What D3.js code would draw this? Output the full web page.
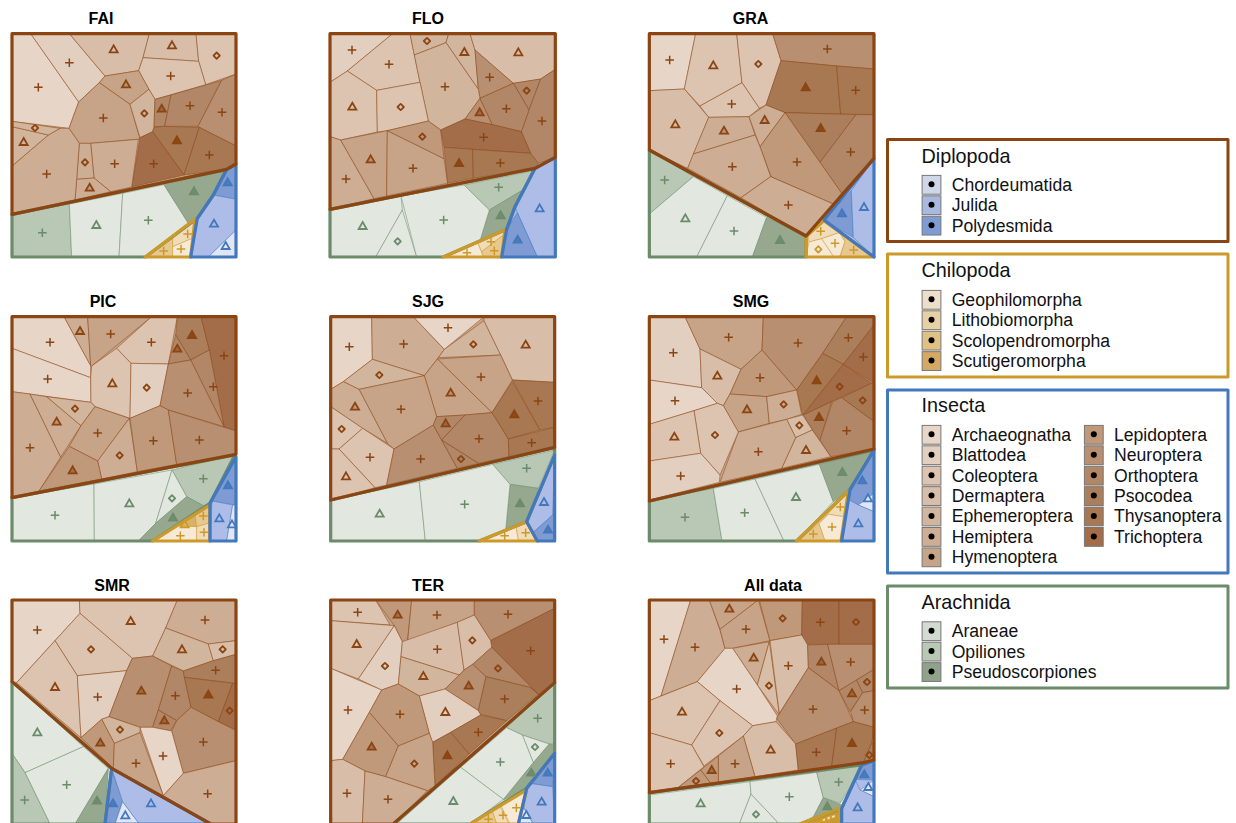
<!DOCTYPE html>
<html><head><meta charset="utf-8">
<script src="https://cdn.jsdelivr.net/npm/d3@7"></script>
<style>html,body{margin:0;padding:0;background:#fff}svg{display:block}text{font-family:"Liberation Sans",Arial,sans-serif}</style>
</head><body><svg id="c" width="1236" height="823"></svg>
<script>
// Fill colours, by taxon order within each class
const insectaFill=["#e7d6c8","#e2cfbf","#dcc4b0","#d8bea8","#d2b59d","#cdad93","#c7a487","#bf997a","#b88f70","#b18767","#ab7f5c","#a87853","#a36d4a"];
const arachnidaFill=["#e2e7df","#b9c7b5","#96a98f"];
const chilopodaFill=["#f6ead6","#f0dcb8","#e7c98f","#d9b26a","#cc9a2a"];
const diplopodaFill=["#e1e6f5","#aebde8","#7f9bd3"];
const groupColor={I:"#8b4513",A:"#6b8b6b",C:"#cc9a2a",D:"#4478bd"};
const fills={I:insectaFill,A:arachnidaFill,C:chilopodaFill,D:diplopodaFill};
const gapFill={I:"#c7a487",A:"#e2e7df",C:"#f0dcb8",D:"#aebde8"};

// Panel title, reading frame of the panel (left,right,top,bottom) and crop origin
const panelNames=["FAI","FLO","GRA","PIC","SJG","SMG","SMR","TER","All data"];
const panelFrames=[[36,708,101,771],[30,706,101,771],[28,702,101,771],[36,708,95,768],[32,704,95,768],[28,702,95,768],[36,708,90,762],[32,704,90,762],[28,702,90,762]];
const panelOrigins=[[0,0],[320,0],[640,0],[0,285],[320,285],[640,285],[0,570],[320,570],[640,570]];
const titleCentres=[101,428,750.5,103,428,751,112,428,773];
const titleBaselines=[23.5,23.5,23.5,307,307,307,590.5,590.5,590.5];

// Class outlines: [class, vertices]
const outlineFAI=[["A","36,643 680,508 640,585 592,655 436,771 36,771"],["C","585,657 436,771 572,771"],["D","708,492 680,508 640,585 592,655 572,771 708,771"],["I","36,101 708,101 708,492 680,508 36,643"]];
const outlineFLO=[["A","30,628 645,505 585,620 560,688 370,771 30,771"],["C","555,690 370,771 545,771"],["D","706,472 645,505 585,620 560,688 545,771 706,771"],["I","30,101 706,101 706,472 645,505 30,628"]];
const outlineGRA=[["A","28,450 498,708 498,771 28,771"],["C","498,710 552,662 702,771 498,771"],["D","702,475 552,660 702,771"],["I","28,101 702,101 702,475 498,708 28,450"]];
const outlinePIC=[["A","36,638 705,510 630,655 458,768 36,768"],["C","630,660 458,768 630,768"],["D","708,515 630,655 630,768 708,768"],["I","36,95 708,95 708,508 36,638"]];
const outlineSJG=[["A","32,645 704,487 704,510 620,710 478,768 32,768"],["C","620,710 478,768 652,768"],["D","704,510 620,710 652,768 704,768"],["I","32,95 704,95 704,487 32,645"]];
const outlineSMG=[["A","28,648 702,495 628,615 470,768 28,768"],["C","625,618 470,768 603,768"],["D","702,495 630,615 605,768 702,768"],["I","28,95 702,95 702,492 28,648"]];
const outlineSMR=[["A","36,335 335,595 315,762 36,762"],["D","335,595 632,762 315,762"],["I","36,90 708,90 708,762 632,762 335,595 36,335"]];
const outlineTER=[["A","704,338 704,550 620,655 450,762 220,762"],["C","620,660 450,762 595,762"],["D","704,550 620,655 595,762 704,762"],["I","32,90 704,90 704,338 220,762 32,762"]];
const outlineALL=[["A","28,668 665,585 605,715 480,762 28,762"],["C","600,715 480,762 600,762"],["D","702,572 665,585 605,715 605,762 702,762"],["I","28,90 702,90 702,570 670,578 28,668"]];

// Cells: [class, shade, marker (p plus, t triangle, d diamond, n none), marker x, marker y, vertices]
const cellsFAI=[
["I",0,"p",115,262,"36,101 92,101 236,306 207,385 36,364"],["I",1,"p",208,188,"92,101 208,101 315,228 298,248 236,306"],
["I",3,"t",341,150,"208,101 448,101 429,173 416,212 315,228"],["I",3,"t",516,138,"448,101 588,101 596,184 429,173"],
["I",2,"d",650,167,"588,101 708,101 708,222 617,254 596,184"],["I",2,"p",512,228,"429,173 596,184 617,254 465,298 447,268 416,212"],
["I",6,"t",378,255,"315,228 416,212 447,268 390,313 298,248"],["I",6,"p",310,354,"298,248 390,313 420,417 272,430 238,430 207,385 236,306"],
["I",4,"d",433,340,"390,313 447,268 465,298 462,382 458,395 420,413"],["I",9,"t",485,328,"465,298 513,285 494,379 462,380"],
["I",9,"p",570,317,"513,285 665,241 594,379 494,379"],["I",8,"p",666,337,"665,241 708,222 708,438 598,382 594,379"],
["I",11,"t",531,423,"494,379 598,382 552,525 458,395 462,382"],["I",11,"p",628,465,"598,382 708,438 708,492 680,508 552,525"],
["I",12,"p",461,491,"458,395 552,525 395,561 420,413"],["I",5,"p",344,491,"272,430 415,418 395,561 332,575 282,534"],
["I",5,"d",255,487,"238,430 272,430 282,534 230,538"],["I",5,"t",269,565,"230,538 282,534 332,575 225,600"],
["I",5,"p",140,522,"36,498 145,405 180,385 207,385 238,430 230,538 225,600 36,643"],["I",4,"t",71,428,"36,380 145,405 36,498"],
["I",4,"d",105,384,"36,364 180,385 145,405 36,380"],
["A",1,"p",127,698,"36,643 208,612 215,771 36,771"],["A",0,"t",289,677,"208,612 368,580 357,771 215,771"],
["A",0,"p",445,661,"368,580 492,554 565,670 436,771 357,771"],["A",2,"t",582,576,"492,554 680,512 640,585 592,655 565,670"],
["C",2,"p",491,753,"436,771 518,708 518,771"],["C",1,"p",563,702,"518,708 585,657 577,715 518,740"],["C",0,"p",543,747,"518,740 577,715 572,771 518,771"],
["D",2,"t",683,549,"680,508 708,492 708,598 640,585"],["D",1,"t",642,673,"640,585 708,598 708,690 625,771 572,771 592,655"],["D",0,"t",677,740,"708,690 708,771 625,771"]];
const cellsFLO=[
["I",1,"p",96,150,"30,101 218,101 82,213 30,247"],["I",2,"p",207,193,"218,101 270,101 283,165 300,247 170,271 82,213"],
["I",4,"d",321,123,"270,101 386,101 378,128 283,165"],["I",4,"t",433,158,"386,101 450,101 465,150 475,268 378,128"],
["I",3,"t",595,159,"450,101 706,101 706,208 662,237 580,250 465,150"],["I",8,"p",509,232,"465,150 580,250 480,295 475,268"],
["I",9,"d",620,272,"580,250 662,237 627,330"],["I",9,"p",666,363,"662,237 706,208 706,472 648,492 632,460 604,395 627,330"],
["I",4,"p",375,260,"283,165 378,128 475,268 480,295 435,357 362,390 325,363 300,247"],["I",2,"t",97,322,"30,247 82,213 170,271 172,396 62,420 30,410"],
["I",2,"d",242,321,"170,271 300,247 325,363 202,392 172,396"],["I",5,"p",78,537,"30,410 62,420 162,596 30,628"],
["I",6,"t",152,480,"62,420 202,392 200,588 162,596"],["I",6,"p",279,505,"202,392 372,476 383,550 200,588"],
["I",7,"d",307,410,"202,392 325,363 362,390 372,476"],["I",8,"t",479,339,"480,295 517,374 435,357"],
["I",9,"p",559,326,"480,295 580,250 627,330 604,395 517,374"],["I",12,"p",491,412,"435,357 517,374 604,395 632,460 458,448 372,442 362,390"],
["I",11,"t",417,491,"372,442 458,448 460,535 383,550"],["I",11,"p",541,489,"458,448 632,460 655,490 645,505 460,535"],
["A",1,"p",536,562,"432,555 640,512 612,568 508,630"],["A",2,"t",542,648,"508,630 612,568 585,620 560,688 480,722"],
["A",0,"t",128,680,"30,628 243,588 247,630 167,771 30,771"],["A",0,"d",233,724,"247,630 290,771 167,771"],
["A",0,"p",371,660,"243,588 432,555 508,630 480,722 370,771 290,771"],
["C",0,"p",441,758,"370,771 473,727 490,771"],["C",1,"p",513,725,"473,727 555,690 550,705 485,755"],["C",2,"p",523,752,"485,755 550,705 545,771 490,771"],
["D",1,"t",659,627,"706,472 645,505 585,620 592,638 652,771 706,771"],["D",2,"t",593,721,"592,638 652,771 545,771 560,688"]];
const cellsGRA=[
["I",0,"p",89,180,"28,101 167,101 133,267 28,272"],["I",2,"t",220,198,"167,101 290,101 306,248 180,318 133,267"],
["I",2,"d",355,192,"290,101 398,101 423,182 378,315 358,325 306,248"],["I",8,"p",562,147,"398,101 702,101 702,207 590,198 423,182"],
["I",11,"t",497,264,"423,182 590,198 602,342 435,338 378,315"],["I",11,"p",647,271,"590,198 702,207 702,344 602,342"],
["I",2,"p",275,312,"306,248 358,325 327,350 206,352 180,318"],["I",3,"t",106,375,"28,272 133,267 206,352 143,505 28,450"],
["I",5,"t",252,394,"206,352 327,350 345,405 160,462"],["I",5,"t",374,362,"327,350 378,315 435,338 360,440"],
["I",10,"t",542,386,"435,338 648,344 540,487"],["I",9,"p",632,456,"648,344 702,344 702,475 605,580 540,487"],
["I",7,"p",471,486,"435,338 540,487 605,580 580,612 393,530 360,440"],["I",5,"p",277,500,"160,462 345,405 360,440 392,530 303,593 143,505"],
["I",5,"p",445,615,"392,530 580,612 498,708 303,593"],
["A",1,"p",74,540,"28,450 160,530 28,642"],["A",0,"t",136,657,"28,642 160,530 262,587 170,771 28,771"],
["A",0,"p",282,693,"262,587 380,652 337,771 170,771"],["A",2,"t",420,722,"380,652 498,708 498,771 337,771"],
["C",1,"p",542,694,"505,708 552,664 600,697 545,716 507,726"],["C",0,"d",535,748,"507,726 545,716 582,771 498,771"],
["C",0,"p",585,730,"545,716 598,698 615,725 600,768 582,771"],["C",2,"p",641,750,"600,697 702,771 600,771 615,725"],
["D",2,"t",606,642,"634,572 640,712 552,660"],["D",1,"t",672,623,"702,475 702,771 640,712 634,572"]];
const cellsPIC=[
["I",0,"p",150,172,"36,95 192,95 272,242 272,278 36,190"],["I",5,"t",240,140,"192,95 263,95 272,242"],
["I",6,"p",332,147,"263,95 455,95 275,243 272,242"],["I",2,"p",454,172,"455,95 532,95 505,237 393,235 350,190"],
["I",0,"p",143,282,"36,190 272,278 273,352 36,320"],["I",2,"t",337,297,"350,190 393,235 390,400 285,365 273,352 272,278 275,243"],
["I",1,"d",440,308,"393,235 505,237 480,362 390,400"],["I",10,"t",576,152,"532,95 603,95 628,195 572,225 527,150"],
["I",12,"p",672,212,"603,95 708,95 708,438 672,425 628,195"],["I",9,"t",532,193,"527,150 572,225 505,237"],
["I",9,"p",640,305,"628,195 672,425 620,322 572,225"],["I",8,"p",563,324,"505,237 572,225 620,322 672,425 505,375 480,362"],
["I",5,"p",90,488,"36,320 90,327 182,516 117,618 36,638"],["I",5,"t",170,412,"90,327 140,335 243,422 182,516"],
["I",4,"d",225,371,"140,335 273,352 285,365 243,422"],["I",6,"p",293,444,"285,365 388,400 293,528 208,484 243,422"],
["I",5,"d",359,511,"388,400 412,560 305,582 293,528"],["I",7,"t",218,558,"208,484 293,528 305,582 117,618"],
["I",7,"p",460,467,"390,400 480,362 505,375 530,538 412,560"],["I",8,"p",598,465,"505,375 708,438 708,508 530,538"],
["A",0,"p",165,691,"36,638 282,597 283,768 36,768"],["A",0,"t",388,657,"282,597 516,555 467,715 415,768 283,768"],
["A",1,"p",610,581,"516,555 700,510 628,655 610,662 560,635"],["A",0,"d",516,640,"516,555 560,635 467,715"],
["A",2,"t",519,700,"560,635 610,662 458,768 415,768 467,715"],
["C",0,"p",541,752,"458,768 530,722 590,725 590,768"],["C",3,"t",554,720,"530,722 585,690 590,725"],
["C",2,"p",610,693,"585,690 630,660 625,715 590,725"],["C",1,"p",612,742,"590,725 625,715 630,768 590,768"],
["D",2,"t",684,603,"708,515 708,660 638,648 630,655"],["D",1,"t",658,702,"636,648 698,660 680,768 630,768"],["D",0,"t",696,720,"698,660 708,660 708,768 680,768"]];
const cellsSJG=[
["I",0,"p",88,185,"32,95 155,95 157,223 70,290 32,313"],["I",5,"p",251,177,"155,95 280,95 373,193 355,218 313,272 157,223"],
["I",0,"p",384,128,"280,95 492,95 373,193"],["I",4,"d",460,178,"492,107 542,210 355,218 373,193"],
["I",3,"t",617,181,"492,95 704,95 704,292 577,285 542,210 492,107"],["I",4,"d",178,270,"157,223 313,272 117,313 70,290"],
["I",6,"p",483,276,"352,222 542,210 577,285 516,383"],["I",6,"t",392,325,"352,222 516,383 435,390 350,395 313,272"],
["I",6,"p",243,373,"117,313 313,272 350,395 340,420 222,492 202,475"],["I",5,"t",105,367,"70,290 117,313 202,475 128,430 32,365 32,313"],
["I",2,"d",65,432,"32,365 128,430 57,492 32,492"],["I",2,"p",150,517,"128,430 222,492 200,600 165,608 57,492"],
["I",2,"t",78,576,"32,492 57,492 165,608 32,645"],["I",8,"p",302,522,"222,492 340,420 365,465 412,550 200,600"],
["I",9,"d",423,522,"365,465 476,535 412,550"],["I",9,"t",377,417,"340,420 350,395 435,390 365,465"],
["I",9,"p",477,461,"435,390 516,383 565,462 567,515 476,535 365,465"],["I",11,"t",583,390,"516,383 577,290 660,435 565,462 540,420"],
["I",11,"p",654,348,"577,285 704,292 704,427 660,435"],["I",11,"p",635,473,"565,462 704,427 704,487 567,515"],
["A",1,"p",620,550,"518,538 704,495 655,610 570,598"],["A",2,"t",600,657,"570,598 655,610 620,710 557,735"],
["A",0,"t",179,688,"32,645 298,590 316,768 32,768"],["A",0,"p",434,658,"298,590 518,538 570,598 557,735 478,768 316,768"],
["C",0,"p",554,752,"478,768 588,725 596,768"],["C",1,"p",617,743,"588,725 620,712 652,768 596,768"],
["D",1,"t",672,653,"704,510 698,690 640,742 620,710"],["D",2,"t",684,736,"698,690 704,690 704,768 652,768 640,742"]];
const cellsSMG=[
["I",1,"p",100,203,"28,95 135,95 180,192 185,308 28,285"],["I",6,"p",266,157,"135,95 370,95 366,195 303,253 180,192"],
["I",8,"p",474,174,"370,95 620,95 548,205 470,315 366,195"],["I",10,"p",625,158,"620,95 702,95 702,120 610,238 548,205"],
["I",12,"p",670,216,"702,120 702,295 610,238"],["I",3,"t",232,274,"180,192 303,253 270,327 250,362 232,355 185,308"],
["I",7,"p",360,278,"366,195 470,315 380,335 270,327 303,253"],["I",11,"t",530,288,"548,205 610,238 488,390 470,315"],
["I",12,"d",599,305,"610,238 695,295 600,338 490,390"],["I",11,"d",668,346,"695,295 702,295 702,410 605,338"],
["I",0,"p",105,347,"28,285 185,308 232,355 162,377 28,418"],["I",6,"t",321,375,"270,327 380,335 388,415 295,441 250,362"],
["I",5,"d",431,358,"380,335 470,315 485,388 440,403 388,415"],["I",10,"t",537,398,"490,390 575,350 540,467 517,435"],
["I",9,"p",620,437,"578,350 605,338 702,410 702,492 572,515 540,465"],["I",3,"d",478,421,"440,403 488,390 517,435 467,458"],
["I",4,"t",498,497,"467,458 517,435 572,515 425,550"],["I",5,"p",355,500,"295,441 440,403 467,458 425,550 240,592"],
["I",2,"d",225,450,"162,377 232,355 250,362 295,441 240,570 182,505"],["I",2,"t",103,457,"28,418 162,377 182,505 28,528"],
["I",1,"p",122,573,"28,528 182,505 240,570 238,592 28,645"],
["A",1,"p",135,697,"28,648 220,610 246,768 28,768"],["A",0,"p",314,683,"220,610 345,582 432,768 246,768"],
["A",0,"t",468,638,"345,582 538,538 580,650 470,768 432,768"],["A",2,"t",607,563,"538,538 695,500 628,615 580,650"],
["C",1,"p",601,666,"625,620 612,695 565,688 537,716"],["C",0,"p",576,726,"565,688 612,695 605,768 555,768 537,716"],["C",2,"p",520,747,"537,716 555,768 470,768"],
["D",2,"t",667,588,"702,497 702,625 655,660 628,645 630,615"],["D",0,"t",684,642,"702,625 702,680 655,660"],["D",1,"t",655,717,"628,645 655,660 702,680 702,768 605,768"]];
const cellsSMR=[
["I",0,"p",112,180,"36,90 238,90 240,130 165,212 50,338 36,335"],["I",2,"t",392,155,"238,90 532,90 497,174 458,258 397,265 240,130"],
["I",5,"p",615,150,"532,90 708,90 708,212 625,222 497,174"],["I",4,"t",546,240,"497,174 625,222 640,272 550,303 458,258"],
["I",3,"d",668,238,"625,222 708,212 708,253 640,272"],["I",2,"d",273,238,"240,130 397,265 380,302 232,317 165,212"],
["I",2,"t",165,353,"165,212 232,317 243,503 50,338"],["I",1,"p",293,381,"232,317 380,302 327,440 305,448 243,503"],
["I",8,"t",424,364,"397,265 458,258 515,288 475,420 458,472 420,472 327,440 380,302"],["I",9,"p",526,377,"515,288 550,303 573,412 530,452 475,420"],
["I",10,"p",647,301,"550,303 640,272 708,253 708,340 553,322"],["I",11,"t",625,376,"553,322 698,340 655,455 573,412"],
["I",12,"d",689,422,"698,340 708,340 708,480 655,455"],["I",9,"t",493,453,"475,420 530,452 512,482 458,472"],
["I",8,"p",610,516,"573,412 655,455 708,482 708,572 550,610 515,483 530,452"],["I",0,"p",489,558,"420,472 458,472 515,483 550,610 490,677"],
["I",4,"d",360,479,"305,448 327,440 420,472 420,488 343,520"],["I",7,"t",301,520,"305,448 343,520 340,595 243,503"],
["I",6,"p",408,580,"343,520 420,488 490,677 340,595"],["I",5,"p",623,671,"550,610 708,572 708,762 632,762 490,677"],
["A",0,"t",112,489,"36,335 250,530 75,608 36,550"],["A",0,"p",200,644,"75,608 250,530 325,595 225,762 150,762"],
["A",1,"p",74,690,"36,550 75,608 150,762 36,762"],["A",2,"t",291,694,"325,595 315,762 225,762"],
["D",2,"t",339,702,"335,600 368,690 345,762 315,762"],["D",0,"t",376,738,"368,695 418,762 345,762"],["D",1,"t",453,702,"335,595 632,762 418,762 368,695"]];
const cellsTER=[
["I",2,"p",113,127,"32,90 167,90 210,165 32,152"],["I",7,"t",233,136,"167,90 275,90 262,215 247,215 223,167"],
["I",6,"p",351,135,"275,90 463,90 463,135 412,157 263,215"],["I",8,"p",564,133,"463,90 704,90 704,115 512,212 463,135"],
["I",12,"p",632,242,"704,115 704,338 655,373 515,232 512,212"],["I",2,"t",110,224,"32,152 223,167 115,327 32,295"],
["I",1,"d",195,288,"223,167 247,215 235,342 185,360 115,327"],["I",3,"p",352,238,"247,215 412,157 432,300 418,315 243,260"],
["I",3,"d",457,211,"412,157 463,135 512,212 515,232 458,283 432,300"],["I",9,"d",534,295,"515,232 655,373 630,352 498,320 458,283"],
["I",4,"t",310,320,"243,260 418,315 375,357 298,378 235,342"],["I",8,"t",446,349,"458,283 498,320 475,422 375,357 418,315 432,300"],
["I",10,"p",554,387,"498,320 630,352 655,373 560,452 480,432 475,422"],["I",0,"p",84,420,"32,295 185,360 148,427 68,568 32,572"],
["I",1,"t",376,428,"298,378 375,357 475,422 482,435 392,487 338,517 328,490"],["I",7,"p",240,433,"185,360 235,342 298,378 328,490 235,528 148,427"],
["I",11,"p",475,487,"392,487 482,435 560,452 447,552"],["I",11,"t",382,558,"338,517 392,487 447,552 345,648"],
["I",7,"t",155,532,"148,427 235,528 197,620 135,603 68,568"],["I",6,"d",283,581,"235,528 328,490 338,517 345,648 322,662 197,620"],
["I",3,"p",81,670,"32,572 68,568 135,603 127,762 32,762"],["I",5,"p",204,688,"135,603 197,620 322,662 220,762 127,762"],
["A",1,"p",653,445,"704,338 704,522 688,522 607,495 560,473"],["A",0,"d",645,531,"607,495 688,522 640,578"],
["A",0,"p",541,576,"560,473 607,495 640,578 550,688 422,592"],["A",2,"t",634,610,"688,522 704,525 704,550 620,655 550,690 640,578"],
["A",0,"t",400,695,"422,592 550,688 450,762 230,762"],
["C",0,"p",589,713,"620,660 595,762 570,762 540,700"],["C",1,"p",549,736,"535,700 568,762 530,762 515,718"],["C",2,"p",505,748,"515,718 530,762 450,762"],
["D",2,"t",683,610,"704,550 698,650 628,640 650,615"],["D",1,"t",665,697,"628,640 698,650 704,762 640,762 612,712 620,655"],["D",0,"t",619,737,"610,712 640,762 595,762"]];
const cellsALL=[
["I",0,"p",72,208,"28,90 152,90 63,378 28,392"],["I",5,"p",165,232,"152,90 208,90 240,180 255,235 172,335 63,378"],
["I",6,"t",268,118,"208,90 355,90 240,178"],["I",6,"p",318,178,"355,90 390,212 278,235 255,235 240,178"],
["I",7,"d",428,145,"358,90 487,90 485,195 390,212"],["I",12,"p",541,157,"487,90 597,90 597,223 500,223 485,195"],
["I",12,"d",648,156,"597,90 702,90 702,223 597,223"],["I",5,"t",341,265,"278,235 388,215 352,345"],
["I",3,"d",387,347,"388,215 418,435 352,345"],["I",3,"p",445,287,"390,212 485,195 503,225 505,293 418,430"],
["I",9,"t",544,277,"503,225 563,223 597,362 505,293"],["I",8,"p",632,276,"563,223 702,223 702,298 650,330 597,362"],
["I",0,"p",290,357,"255,235 278,235 352,345 412,438 408,455 338,467 240,392 172,335"],["I",8,"p",519,418,"505,293 597,362 640,455 467,522 410,445"],
["I",9,"t",636,372,"597,362 650,330 668,368 630,425"],["I",9,"d",681,336,"650,330 702,298 702,362 668,368"],
["I",8,"p",674,420,"668,368 702,362 702,472 640,455 632,425"],["I",2,"t",126,427,"28,392 172,335 240,392 155,525 28,488"],
["I",2,"d",238,489,"240,392 338,467 310,498 192,588 155,525"],["I",2,"p",92,581,"28,488 155,525 192,590 115,652 28,668"],
["I",3,"t",392,541,"338,467 408,455 467,522 475,600 345,620 310,498"],["I",6,"p",285,581,"310,498 345,620 235,637 235,558"],
["I",7,"t",215,602,"235,558 235,637 212,640 182,600"],["I",7,"d",168,633,"182,600 212,640 115,652"],
["I",11,"p",529,547,"467,522 590,474 575,590 475,602"],["I",11,"t",636,521,"590,474 640,455 702,472 695,520 670,578 575,590"],
["I",10,"d",688,555,"695,520 702,520 702,570 670,578"],
["A",0,"t",182,702,"28,675 330,635 333,672 298,762 28,762"],["A",0,"d",348,733,"333,672 418,762 298,762"],
["A",0,"p",448,680,"330,635 530,607 550,683 520,740 480,762 418,762 333,672"],["A",1,"p",596,636,"530,607 665,585 625,660 600,700 550,683"],
["A",2,"t",562,711,"550,683 605,705 600,715 520,742"],
["C",4,"n",560,748,"480,762 600,715 600,762"],["C",0,"n",552,750,"548,748 556,745 556,752 548,754"],["C",0,"n",566,745,"562,742 570,739 570,747 562,750"],["C",0,"n",580,740,"575,738 585,734 585,742 575,745"],
["D",2,"t",673,615,"665,585 702,572 702,630 645,628"],["D",0,"t",685,653,"702,630 702,680 660,660"],["D",1,"t",653,714,"645,628 660,660 702,680 702,762 605,762 605,710"]];
const panelCells=[cellsFAI,cellsFLO,cellsGRA,cellsPIC,cellsSJG,cellsSMG,cellsSMR,cellsTER,cellsALL];
const panelOutlines=[outlineFAI,outlineFLO,outlineGRA,outlinePIC,outlineSJG,outlineSMG,outlineSMR,outlineTER,outlineALL];

// Legend
const legendClasses=["Diplopoda","Chilopoda","Insecta","Arachnida"];
const diplopodaOrders=["Chordeumatida","Julida","Polydesmida"];
const chilopodaOrders=["Geophilomorpha","Lithobiomorpha","Scolopendromorpha","Scutigeromorpha"];
const insectaOrders=["Archaeognatha","Blattodea","Coleoptera","Dermaptera","Ephemeroptera","Hemiptera","Hymenoptera","Lepidoptera","Neuroptera","Orthoptera","Psocodea","Thysanoptera","Trichoptera"];
const arachnidaOrders=["Araneae","Opiliones","Pseudoscorpiones"];
const legendOrders=[diplopodaOrders,chilopodaOrders,insectaOrders,arachnidaOrders];
const legendFills=[["#cfd6e8","#a9b8de","#7f9bd3"],["#ecdec8","#e6d0a5","#e0c184","#d4a964"],insectaFill,["#d3dad1","#b9c7b5","#8fa38a"]];
const legendBorder=["#8b4513","#cc9a2a","#4478bd","#6b8b6b"];
const legendTop=[139.5,254,390,586], legendBottom=[241.5,377,573,688];
const legendTitleY=[162.6,277.2,412.2,608.6], legendRowY=[184.8,299.8,434.8,631.2];

const svg=d3.select("#c");
const pts=s=>s.split(" ").map(p=>p.split(",").map(Number));
const sym=(t,s)=>d3.symbol().type(t).size(s)();

panelNames.forEach((name,i)=>{
  const [l,r,t,b]=panelFrames[i],[ox,oy]=panelOrigins[i];
  const x=d3.scaleLinear().domain([l,r]).range([ox+l/3,ox+r/3]);
  const y=d3.scaleLinear().domain([t,b]).range([oy+t/3,oy+b/3]);
  const line=d3.line().x(d=>x(d[0])).y(d=>y(d[1])).curve(d3.curveLinearClosed);
  const g=svg.append("g");
  g.append("text").attr("x",titleCentres[i]).attr("y",titleBaselines[i]).attr("text-anchor","middle")
    .attr("font-size",16).attr("font-weight","bold").attr("fill","#000").text(name);
  g.selectAll("path.base").data(panelOutlines[i]).join("path").attr("class","base")
    .attr("d",d=>line(pts(d[1]))).attr("fill",d=>gapFill[d[0]]);
  g.selectAll("path.cell").data(panelCells[i]).join("path").attr("class","cell")
    .attr("d",d=>line(pts(d[5]))).attr("fill",d=>fills[d[0]][d[1]])
    .attr("stroke",d=>groupColor[d[0]]).attr("stroke-width",0.6).attr("stroke-opacity",0.85).attr("stroke-linejoin","round");
  g.selectAll("path.outline").data(panelOutlines[i]).join("path").attr("class","outline")
    .attr("d",d=>line(pts(d[1]))).attr("fill","none").attr("stroke",d=>groupColor[d[0]])
    .attr("stroke-width",3.2).attr("stroke-linejoin","round");
  g.selectAll("path.mark").data(panelCells[i].filter(d=>d[2]!=="n")).join("path").attr("class","mark")
    .attr("transform",d=>`translate(${x(d[3])},${y(d[4])})`+(d[2]==="d"?" rotate(45)":""))
    .attr("d",d=>d[2]==="p"?sym(d3.symbolPlus,26):d[2]==="t"?sym(d3.symbolTriangle,28):sym(d3.symbolSquare,20))
    .attr("stroke",d=>groupColor[d[0]]).attr("stroke-width",d=>d[2]==="p"?1.5:1.8)
    .attr("stroke-linejoin",d=>d[2]==="d"?"round":"miter")
    .attr("fill",d=>{
      if(d[2]==="p")return "none";
      const f=fills[d[0]][d[1]];
      if(d[2]==="d")return f;
      const k=d[0]==="I"?(d[1]>=10?0.95:d[1]>=7?0.5:d[1]>=5?0.2:0):(d[1]===2?0.9:0);
      return d3.interpolateRgb(f,groupColor[d[0]])(k);
    });
});

legendClasses.forEach((name,i)=>{
  const g=svg.append("g");
  g.append("rect").attr("x",887.5).attr("y",legendTop[i]).attr("width",340.5).attr("height",legendBottom[i]-legendTop[i])
    .attr("fill","#fff").attr("stroke",legendBorder[i]).attr("stroke-width",3).attr("stroke-linejoin","round");
  g.append("text").attr("x",921.5).attr("y",legendTitleY[i]).attr("font-size",19.8).attr("fill","#111").text(name);
  legendOrders[i].forEach((o,j)=>{
    const col=j>=7?1:0,row=j>=7?j-7:j;
    const sx=(col?1084:921.7),cy=legendRowY[i]+row*20.42;
    g.append("rect").attr("x",sx+0.4).attr("y",cy-9.4).attr("width",18.8).attr("height",18.8)
      .attr("fill",legendFills[i][j]).attr("stroke","#777").attr("stroke-width",1);
    g.append("circle").attr("cx",sx+9.8).attr("cy",cy-0.5).attr("r",3).attr("fill","#000");
    g.append("text").attr("x",sx+30).attr("y",cy+6).attr("font-size",17.6).attr("fill","#111").text(o);
  });
});
</script></body></html>
